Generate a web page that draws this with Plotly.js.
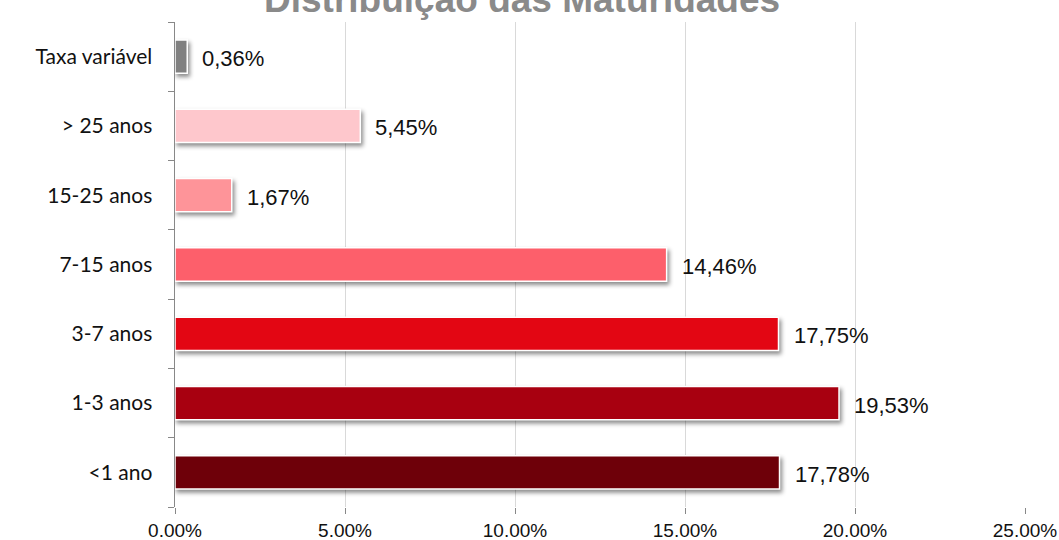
<!DOCTYPE html>
<html>
<head>
<meta charset="utf-8">
<script src="https://cdn.plot.ly/plotly-3.0.1.min.js"></script>
<style>
  body { margin: 0; background: #fff; }
  #chart { width: 1059px; height: 540px; }
  .trace.bars path { filter: drop-shadow(2px 3px 2px rgba(0,0,0,0.45)); }
</style>
</head>
<body>
<div id="chart"></div>
<script>
// maturity buckets, bottom to top
var categories = ["<1 ano", "1-3 anos", "3-7 anos", "7-15 anos", "15-25 anos", "> 25 anos", "Taxa variável"];
var shares = [17.78, 19.53, 17.75, 14.46, 1.67, 5.45, 0.36];
var barColors = ["#6e0009", "#a80010", "#e30613", "#fd5f6b", "#fe9499", "#fec7cc", "#808080"];
var xTicks = [0, 5, 10, 15, 20, 25];

var trace = {
    type: "bar",
    orientation: "h",
    y: categories,
    x: shares,
    width: 0.48,
    marker: {color: barColors, line: {color: "#ffffff", width: 1.5}},
    hoverinfo: "none"
};

// data labels with comma decimals, a bit to the right of each bar
var labels = shares.map(function(v, i) {
    return {
        x: v, y: categories[i], xref: "x", yref: "y",
        text: v.toFixed(2).replace(".", ",") + "%",
        showarrow: false, xanchor: "left", xshift: 13, yshift: -2,
        font: {family: "Liberation Sans Narrow, Arial Narrow, Liberation Sans, Arial", size: 22, color: "#111"}
    };
});

var layout = {
    title: {
        text: "<b>Distribuição das Maturidades</b>",
        font: {family: "Liberation Sans, Arial", size: 37, color: "#8a8a8a"},
        x: 0.493, xanchor: "center",
        y: 0.978, yref: "container", yanchor: "bottom"
    },
    margin: {l: 175, r: 34, t: 22, b: 33},
    paper_bgcolor: "#ffffff",
    plot_bgcolor: "#ffffff",
    showlegend: false,
    xaxis: {
        range: [0, 25],
        tickvals: xTicks,
        ticktext: xTicks.map(function(t) { return t.toFixed(2) + "%"; }),
        showgrid: true, gridcolor: "#d9d9d9", gridwidth: 1,
        zeroline: false, showline: false,
        ticks: "outside", ticklen: 6, tickcolor: "#888",
        ticklabeloverflow: "allow",
        tickfont: {family: "Liberation Sans, Arial", size: 19, color: "#111"}
    },
    yaxis: {
        type: "category",
        categoryorder: "array", categoryarray: categories,
        showline: true, linecolor: "#888", linewidth: 1.5,
        ticks: "outside", ticklen: 6, tickcolor: "#888", tickson: "boundaries",
        showgrid: false, zeroline: false,
        ticklabelstandoff: 17,
        tickfont: {family: "Lato, Open Sans, sans-serif", size: 21, color: "#111"}
    },
    annotations: labels
};

Plotly.newPlot("chart", [trace], layout, {displayModeBar: false, staticPlot: true});
</script>
</body>
</html>
